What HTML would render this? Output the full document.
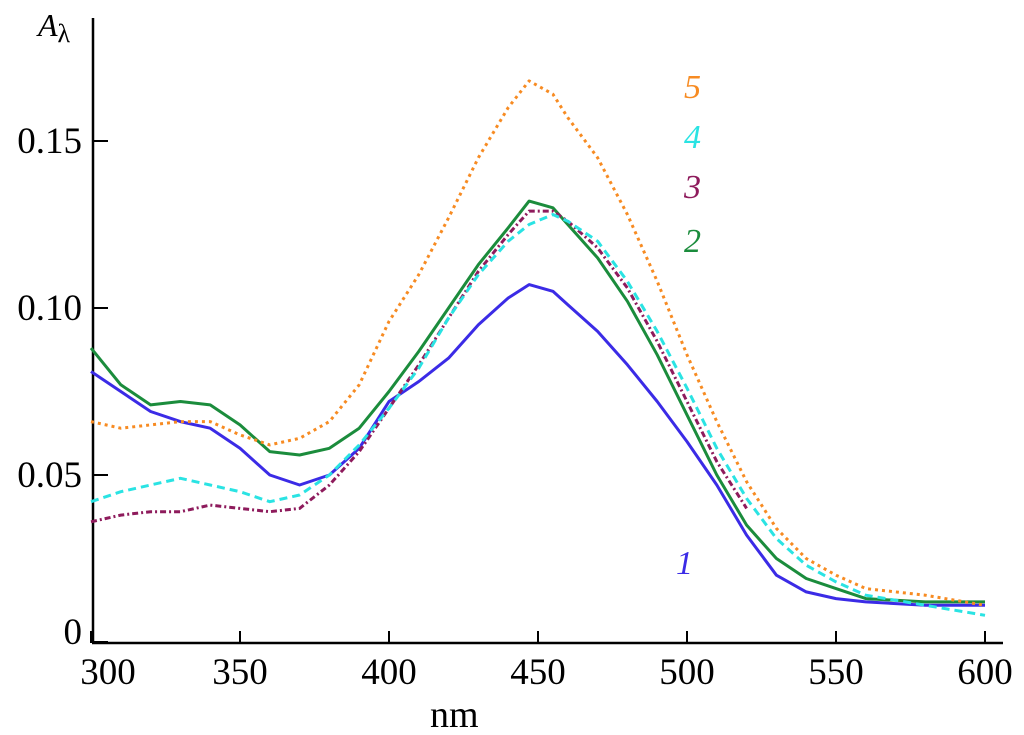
<!DOCTYPE html>
<html><head><meta charset="utf-8"><style>
body{margin:0;background:#fff}
svg{display:block;font-family:"Liberation Serif",serif}
</style></head><body>
<svg id="c" width="1024" height="735">
<g id="axes"></g>
<g id="series"></g>
<text x="38" y="36" font-size="32" font-style="italic">A<tspan font-size="26" dy="6" font-style="normal">λ</tspan></text>
<text x="430" y="727" font-size="38">nm</text>
</svg>
<script>
const lambdas=[300,310,320,330,340,350,360,370,380,390,400,410,420,430,440,447,455,460,470,480,490,500,510,520,530,540,550,560,580,600];
const s1=[0.081,0.075,0.069,0.066,0.064,0.058,0.050,0.047,0.050,0.058,0.072,0.078,0.085,0.095,0.103,0.107,0.105,0.101,0.093,0.083,0.072,0.060,0.047,0.032,0.020,0.015,0.013,0.012,0.011,0.011];
const s2=[0.088,0.077,0.071,0.072,0.071,0.065,0.057,0.056,0.058,0.064,0.075,0.087,0.100,0.113,0.124,0.132,0.130,0.125,0.115,0.102,0.086,0.068,0.050,0.035,0.025,0.019,0.016,0.013,0.012,0.012];
const s3=[0.036,0.038,0.039,0.039,0.041,0.040,0.039,0.040,0.047,0.057,0.070,0.083,0.097,0.111,0.122,0.129,0.129,0.126,0.118,0.106,0.090,0.072,0.054,0.040,null,null,null,null,null,null];
const s4=[0.042,0.045,0.047,0.049,0.047,0.045,0.042,0.044,0.050,0.059,0.070,0.082,0.097,0.110,0.120,0.125,0.128,0.126,0.120,0.108,0.093,0.076,0.058,0.043,0.031,0.023,0.018,0.014,0.011,0.008];
const s5=[0.066,0.064,0.065,0.066,0.066,0.062,0.059,0.061,0.066,0.077,0.096,0.110,0.127,0.145,0.160,0.168,0.164,0.157,0.145,0.128,0.108,0.086,0.066,0.048,0.034,0.025,0.020,0.016,0.014,0.011];
const xTicks=[300,350,400,450,500,550,600];
const yTicks=[0,0.05,0.10,0.15];
const yTickLabels=["0","0.05","0.10","0.15"];
const seriesNames=["1","2","3","4","5"];
const x=l=>91+(l-300)*2.98;
const y=a=>642-a*3340;
const NS="http://www.w3.org/2000/svg";
function mk(t,p,at){const e=document.createElementNS(NS,t);for(const k in at)e.setAttribute(k,at[k]);p.appendChild(e);return e;}
const ax=document.getElementById('axes');
let e=mk('line',ax,{x1:93,y1:18,x2:93,y2:643,stroke:'#000','stroke-width':2.5});


e=mk('line',ax,{x1:92,y1:643,x2:1003,y2:643,stroke:'#000','stroke-width':2.5});


xTicks.forEach(v=>{
 let t=mk('line',ax,{x1:x(v),y1:643,x2:x(v),y2:631,stroke:'#000','stroke-width':2});
 
 
 let l=mk('text',ax,{x:x(v)+(v==300?17:0),y:684,'font-size':37,'text-anchor':'middle'});
 l.textContent=v;
 
 
});
yTicks.forEach((v,i)=>{
 let t=mk('line',ax,{x1:93,y1:y(v),x2:108,y2:y(v),stroke:'#000','stroke-width':2});
 
 
 let l=mk('text',ax,{x:82,y:(v==0?y(v)+2:y(v)+12),'font-size':37,'text-anchor':'end'});
 l.textContent=yTickLabels[i];
 
 
});
const sg=document.getElementById('series');
const defs=[[s1,'#3b2be6',null,'1',676,574],[s2,'#1b8c3c',null,'2',684,252],[s3,'#8e1b5c','6 3 2 3','3',684,198],[s4,'#2ae3e3','8 5','4',684,148],[s5,'#f78b22','3 4','5',684,98]];
defs.forEach((d,i)=>{
 let pts=[];d[0].forEach((v,j)=>{if(v!==null)pts.push(x(lambdas[j]).toFixed(1)+','+y(v).toFixed(1));});
 let p=mk('polyline',sg,{points:pts.join(' '),fill:'none',stroke:d[1],'stroke-width':3,'stroke-linejoin':'round'});
 if(d[2])p.setAttribute('stroke-dasharray',d[2]);
 
 
 let t=mk('text',sg,{x:d[4],y:d[5],'font-size':34,'font-style':'italic',fill:d[1]});
 t.textContent=seriesNames[i];
 
 
});
</script>
</body></html>
